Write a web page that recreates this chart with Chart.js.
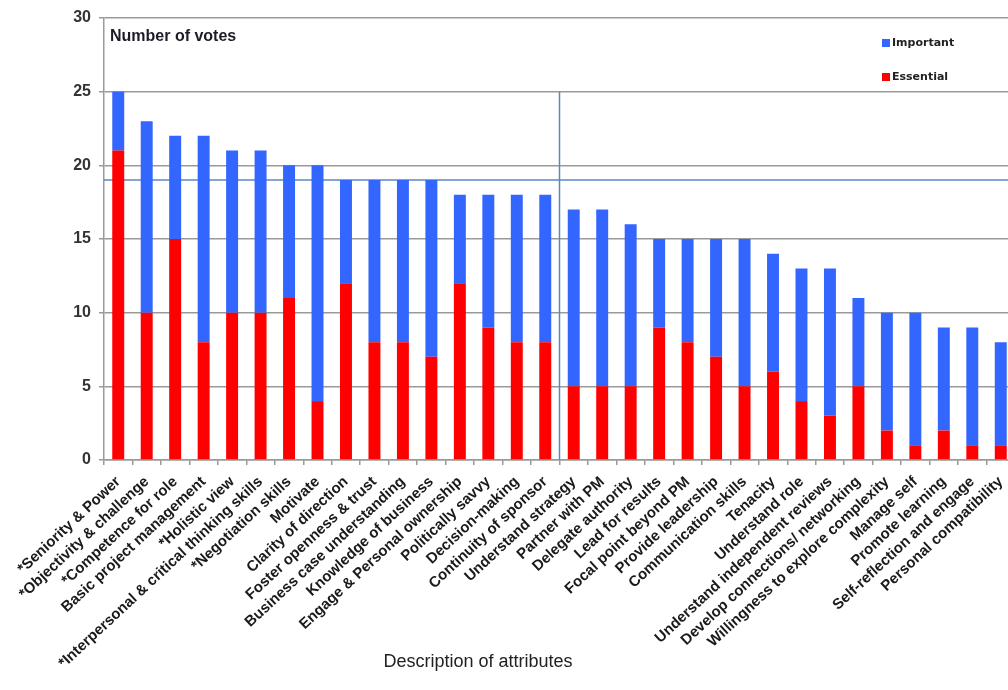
<!DOCTYPE html>
<html>
<head>
<meta charset="utf-8">
<script src="https://cdn.jsdelivr.net/npm/chart.js@4/dist/chart.umd.min.js"></script>
<style>
  html, body { margin: 0; padding: 0; background: #fff; overflow: hidden; }
  #wrap { width: 1008px; height: 690px; overflow: hidden; position: relative; }
  #box { width: 1020px; height: 690px; position: absolute; left: 0; top: 0; }
</style>
</head>
<body>
<div id="wrap"><div id="box"><canvas id="c"></canvas></div></div>
<script>
// Attributes, sorted by total number of votes
const categories = [
  '*Seniority & Power', '*Objectivity & challenge', '*Competence for role',
  'Basic project management', '*Holistic view', '*Interpersonal & critical thinking skills',
  '*Negotiation skills', 'Motivate', 'Clarity of direction', 'Foster openness & trust',
  'Business case understanding', 'Knowledge of business', 'Engage & Personal ownership',
  'Politically savvy', 'Decision-making', 'Continuity of sponsor', 'Understand strategy',
  'Partner with PM', 'Delegate authority', 'Lead for results', 'Focal point beyond PM',
  'Provide leadership', 'Communication skills', 'Tenacity', 'Understand role',
  'Understand independent reviews', 'Develop connections/ networking',
  'Willingness to explore complexity', 'Manage self', 'Promote learning',
  'Self-reflection and engage', 'Personal compatibility'
];

// Votes rating the attribute "Essential"
const essential = [21, 10, 15, 8, 10, 10, 11, 4, 12, 8, 8, 7, 12, 9, 8, 8,
                   5, 5, 5, 9, 8, 7, 5, 6, 4, 3, 5, 2, 1, 2, 1, 1];

// Additional votes rating the attribute "Important"
const important = [4, 13, 7, 14, 11, 11, 9, 16, 7, 11, 11, 12, 6, 9, 10, 10,
                   12, 12, 11, 6, 7, 8, 10, 8, 9, 10, 6, 8, 9, 7, 8, 7];

const yTickLabels = ['0', '5', '10', '15', '20', '25', '30'];

// Reference lines: threshold of votes and split between the top group and the rest
const thresholdVotes = 19;
const splitAfterIndex = 15;
const splitTopVotes = 25;

const seriesNames = ['Essential', 'Important'];
const seriesColors = ['#ff0000', '#3366ff'];

const FONT = "'Liberation Sans', Arial, sans-serif";

const decorations = {
  id: 'decorations',
  beforeDatasetsDraw(chart) {
    const { ctx, chartArea, scales } = chart;
    const x = scales.x, y = scales.y;
    ctx.save();
    ctx.strokeStyle = '#5b86c5';
    ctx.lineWidth = 1.5;
    // horizontal threshold line
    const yt = y.getPixelForValue(thresholdVotes);
    ctx.beginPath();
    ctx.moveTo(chartArea.left, yt);
    ctx.lineTo(chartArea.right, yt);
    ctx.stroke();
    // vertical split line
    const xs = (x.getPixelForValue(splitAfterIndex) + x.getPixelForValue(splitAfterIndex + 1)) / 2;
    ctx.beginPath();
    ctx.moveTo(xs, y.getPixelForValue(splitTopVotes));
    ctx.lineTo(xs, y.getPixelForValue(0));
    ctx.stroke();
    ctx.restore();
  },
  afterDraw(chart) {
    const { ctx, chartArea } = chart;
    ctx.save();
    // in-plot caption
    ctx.fillStyle = '#1c1c28';
    ctx.font = `bold 16px ${FONT}`;
    ctx.textAlign = 'left';
    ctx.textBaseline = 'middle';
    ctx.fillText('Number of votes', chartArea.left + 6, 37);

    // legend, top entry is the upper stack segment
    const items = [
      { name: seriesNames[1], color: seriesColors[1], y: 43 },
      { name: seriesNames[0], color: seriesColors[0], y: 77 }
    ];
    ctx.font = "bold 11px 'DejaVu Sans', sans-serif";
    items.forEach(it => {
      ctx.fillStyle = it.color;
      ctx.fillRect(882, it.y - 4, 8, 8);
      ctx.fillStyle = '#222';
      ctx.fillText(it.name, 892, it.y);
    });

    // axis title
    ctx.font = `18px ${FONT}`;
    ctx.textAlign = 'center';
    ctx.fillStyle = '#222';
    ctx.fillText('Description of attributes', 478, 662);
    ctx.restore();
  }
};

new Chart(document.getElementById('c'), {
  type: 'bar',
  data: {
    labels: categories,
    datasets: [
      { label: seriesNames[0], data: essential, backgroundColor: seriesColors[0],
        barPercentage: 0.42, categoryPercentage: 1 },
      { label: seriesNames[1], data: important, backgroundColor: seriesColors[1],
        barPercentage: 0.42, categoryPercentage: 1 }
    ]
  },
  options: {
    responsive: true,
    maintainAspectRatio: false,
    animation: false,
    layout: { padding: { top: 18, left: 0, right: 5, bottom: 0 } },
    plugins: { legend: { display: false }, tooltip: { enabled: false } },
    scales: {
      x: {
        stacked: true,
        grid: { display: true, drawOnChartArea: false, offset: true, color: '#999', lineWidth: 1.5, tickLength: 5 },
        border: { display: true, color: '#9a9a9a', width: 1.5 },
        ticks: {
          autoSkip: false, minRotation: 43, maxRotation: 43, padding: 8,
          color: '#1a1a1a', font: { family: FONT, weight: 'bold', size: 15 }
        },
        afterFit(s) { s.height = 230; s.paddingLeft = 0; s.paddingRight = 0; }
      },
      y: {
        stacked: true,
        min: 0, max: 30,
        grid: { color: '#9a9a9a', lineWidth: 1.5, tickLength: 5 },
        border: { display: true, color: '#9a9a9a', width: 1.5 },
        ticks: {
          stepSize: 5, padding: 8, color: '#333',
          font: { family: FONT, weight: 'bold', size: 16 },
          callback: (v, i) => yTickLabels[i]
        },
        afterFit(s) { s.width = 104; s.paddingTop = 0; s.paddingBottom = 0; }
      }
    }
  },
  plugins: [decorations]
});
</script>
</body>
</html>
